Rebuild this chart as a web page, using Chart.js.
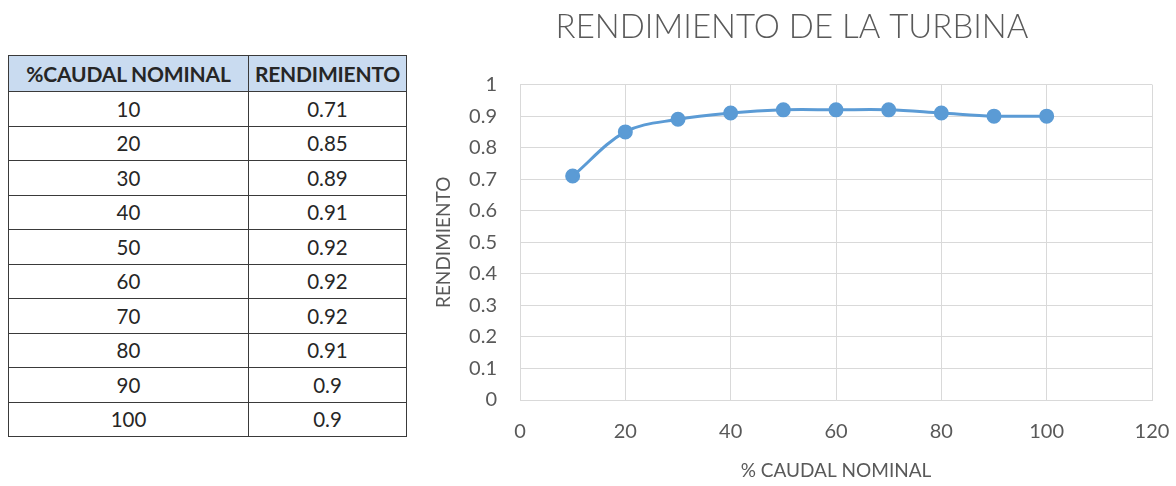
<!DOCTYPE html>
<html>
<head>
<meta charset="utf-8">
<script src="https://cdn.jsdelivr.net/npm/chart.js@4.4.1/dist/chart.umd.min.js"></script>
<style>
  html, body { margin: 0; padding: 0; background: #ffffff; }
  body { width: 1176px; height: 486px; position: relative; overflow: hidden; font-family: Lato, "Open Sans", sans-serif; }
  #tabla {
    position: absolute; left: 8px; top: 55px;
    border-collapse: collapse; width: 399px;
    font-family: Lato, sans-serif; color: #262626;
  }
  #tabla th, #tabla td {
    border: 1.5px solid #3a3a3a; text-align: center; padding: 0;
  }
  #tabla th { background: #c9dbf0; font-weight: 700; font-size: 21px; height: 35px; letter-spacing: -0.2px; }
  #tabla td { font-size: 20.5px; height: 33.5px; }
  #wrap { position: absolute; left: 420px; top: 0; width: 756px; height: 486px; }
</style>
</head>
<body>
<table id="tabla">
  <thead><tr><th style="width:239px">%CAUDAL NOMINAL</th><th>RENDIMIENTO</th></tr></thead>
  <tbody id="filas"></tbody>
</table>
<div id="wrap"><canvas id="grafico" width="756" height="486"></canvas></div>
<script>
// Ensayo de la turbina: caudal en % del nominal y rendimiento medido
const caudal = [10, 20, 30, 40, 50, 60, 70, 80, 90, 100];
const rendimiento = [0.71, 0.85, 0.89, 0.91, 0.92, 0.92, 0.92, 0.91, 0.9, 0.9];
const rendimientoTexto = ['0.71', '0.85', '0.89', '0.91', '0.92', '0.92', '0.92', '0.91', '0.9', '0.9'];

// Tabla de valores
const filas = document.getElementById('filas');
caudal.forEach((c, i) => {
  const tr = document.createElement('tr');
  tr.innerHTML = '<td>' + c + '</td><td>' + rendimientoTexto[i] + '</td>';
  filas.appendChild(tr);
});

const gris = '#595959';
const rejilla = '#d9d9d9';
const azul = '#5b9bd5';

new Chart(document.getElementById('grafico'), {
  type: 'scatter',
  data: {
    datasets: [{
      data: caudal.map((c, i) => ({ x: c, y: rendimiento[i] })),
      showLine: true,
      borderColor: azul,
      backgroundColor: azul,
      borderWidth: 3,
      pointRadius: 6,
      pointHoverRadius: 6,
      tension: 0.35
    }]
  },
  options: {
    responsive: false,
    animation: false,
    layout: { autoPadding: false, padding: { left: 12, right: 24, top: 0, bottom: 4 } },
    plugins: {
      legend: { display: false },
      tooltip: { enabled: false },
      title: {
        display: true,
        text: 'RENDIMIENTO DE LA TURBINA',
        color: gris,
        font: { family: 'Lato', size: 33, weight: '300' },
        padding: { top: 8, bottom: 37 }
      }
    },
    scales: {
      x: {
        type: 'linear', min: 0, max: 120,
        // fixed axis height; edge labels may overhang the side margins
        afterFit: (s) => { s.height = 82; s.paddingLeft = 0; s.paddingRight = 0; },
        ticks: { stepSize: 20, color: gris, padding: 20, font: { family: 'Lato', size: 20 } },
        grid: { color: rejilla, drawTicks: false },
        border: { color: rejilla },
        title: { display: true, text: '% CAUDAL NOMINAL', color: gris, font: { family: 'Lato', size: 19 }, padding: { top: 14, bottom: 0 } }
      },
      y: {
        min: 0, max: 1,
        afterFit: (s) => { s.width = 88; s.paddingTop = 0; s.paddingBottom = 0; },
        ticks: {
          stepSize: 0.1, color: gris, padding: 23, font: { family: 'Lato', size: 20 },
          callback: (v) => String(Math.round(v * 10) / 10)
        },
        grid: { color: rejilla, drawTicks: false },
        border: { color: rejilla },
        title: { display: true, text: 'RENDIMIENTO', color: gris, font: { family: 'Lato', size: 19 }, padding: { top: 0, bottom: 4 } }
      }
    }
  }
});
</script>
</body>
</html>
